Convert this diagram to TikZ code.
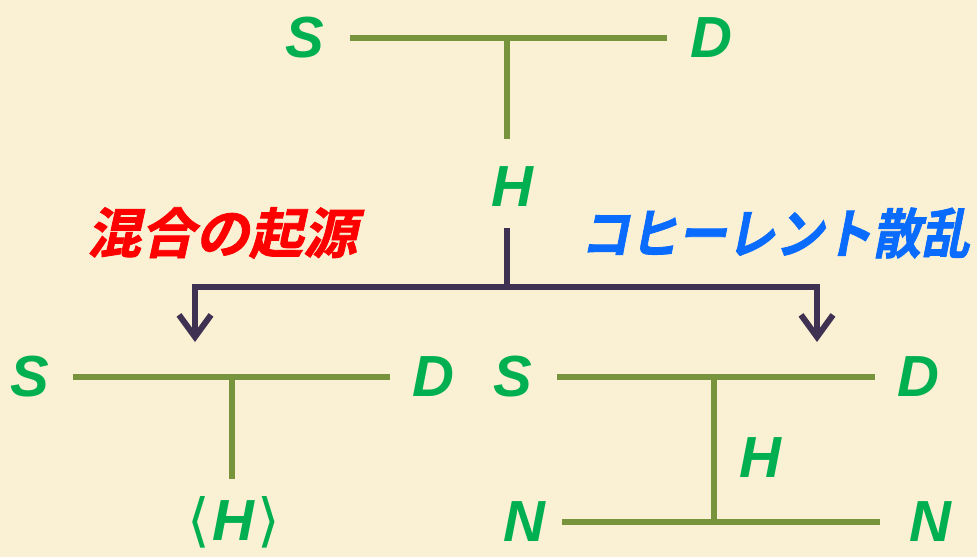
\documentclass[tikz,border=0pt]{standalone}
\usepackage{fontspec}
\usetikzlibrary{arrows.meta}
\newfontfamily\latf{Liberation Sans}
\newfontfamily\dvf{DejaVu Sans}
\newfontfamily\cjkf[BoldFont={Noto Sans CJK JP Bold},BoldFeatures={FakeSlant=0.22,FakeBold=1.5}]{Noto Sans CJK JP}
\definecolor{bgc}{HTML}{FAF0D4}
\definecolor{grn}{HTML}{00B050}
\definecolor{olv}{HTML}{77933C}
\definecolor{prp}{HTML}{3F3151}
\definecolor{blu}{HTML}{0A6CFF}
\tikzset{
  lbl/.style={text=grn,font=\latf\fontsize{58}{58}\selectfont\bfseries\itshape,inner sep=0pt,anchor=center},
  oline/.style={draw=olv,line width=6pt},
  pline/.style={draw=prp,line width=6pt},
  parr/.style={pline,-{Straight Barb[length=22pt,width=32pt,line width=6pt]}},
  jp/.style={font=\cjkf\fontsize{54}{54}\selectfont\bfseries,inner sep=0pt,anchor=center}
}
\begin{document}
\begin{tikzpicture}[x=1pt,y=-1pt]
\fill[bgc] (0,0) rectangle (977,557);
\useasboundingbox (0,0) rectangle (977,557);
% top
\node[lbl] (S0) at (305,38) {S};
\node[lbl] (D0) at (711,38) {D};
\node[lbl] (H0) at (512,187) {H};
\coordinate (a0) at (350,38);
\coordinate (b0) at (667,38);
\coordinate (m0) at (507,38);
\coordinate (e0) at (507,139);
\draw[oline] (a0) -- (b0);
\draw[oline] (m0) -- (e0);
% purple split
\coordinate (p0) at (507,228);
\coordinate (pj) at (507,287);
\coordinate (pl) at (195,287);
\coordinate (pr) at (817,287);
\coordinate (al) at (195,342);
\coordinate (ar) at (817,342);
\draw[pline] (p0) -- (pj);
\draw[parr] (pj) -- (pl) -- (al);
\draw[parr] (pj) -- (pr) -- (ar);
\node[jp,text=red] (t1) at (222,233) {混合の起源};
\node[jp,text=blu,xscale=0.9] (t2) at (775,233) {コヒーレント散乱};
% bottom left
\node[lbl] (S1) at (30,377) {S};
\node[lbl] (D1) at (433,377) {D};
\node[lbl] (H1) at (234,522) {{\dvf\mdseries\upshape ⟨}\kern2pt H\kern4pt{\dvf\mdseries\upshape ⟩}};
\coordinate (a1) at (73,377);
\coordinate (b1) at (390,377);
\coordinate (m1) at (232,377);
\coordinate (e1) at (232,479);
\draw[oline] (a1) -- (b1);
\draw[oline] (m1) -- (e1);
% bottom right
\node[lbl] (S2) at (513,377) {S};
\node[lbl] (D2) at (918,377) {D};
\node[lbl] (H2) at (760,458) {H};
\node[lbl] (N1) at (524,522) {N};
\node[lbl] (N2) at (930,522) {N};
\coordinate (a2) at (557,377);
\coordinate (b2) at (875,377);
\coordinate (c2) at (562,522);
\coordinate (d2) at (880,522);
\coordinate (m2) at (714,377);
\coordinate (n2) at (714,522);
\draw[oline] (a2) -- (b2);
\draw[oline] (c2) -- (d2);
\draw[oline] (m2) -- (n2);
\end{tikzpicture}
\end{document}
